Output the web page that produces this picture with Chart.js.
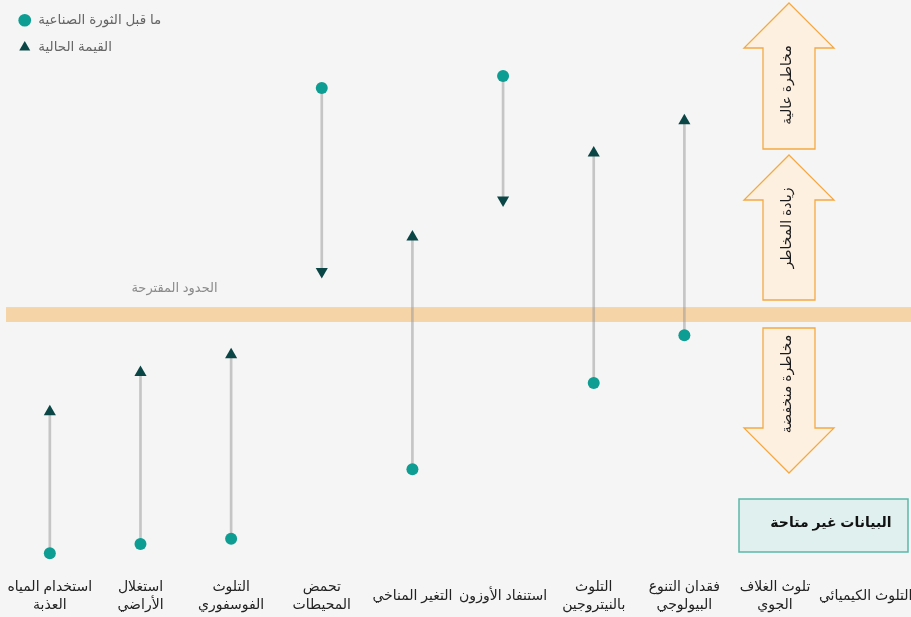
<!DOCTYPE html>
<html><head><meta charset="utf-8">
<script src="https://cdn.jsdelivr.net/npm/chart.js@4.4.0/dist/chart.umd.min.js"></script>
<style>html,body{margin:0;padding:0;background:#f5f5f5;overflow:hidden;} #wrap{width:911px;height:617px;position:relative;}</style>
</head><body><div id="wrap"><canvas id="c" width="911" height="617"></canvas></div>
<script>
const categories = [
  ['استخدام المياه','العذبة'],
  ['استغلال','الأراضي'],
  ['التلوث','الفوسفوري'],
  ['تحمض','المحيطات'],
  'التغير المناخي',
  'استنفاد الأوزون',
  ['التلوث','بالنيتروجين'],
  ['فقدان التنوع','البيولوجي'],
  ['تلوث الغلاف','الجوي'],
  'التلوث الكيميائي'
];
const preIndustrial = [3.8, 5.4, 6.3, 84.7, 18.4, 86.8, 33.4, 41.7, null, null];
const currentValue  = [28.4, 35.2, 38.3, 52.8, 58.8, 65.2, 73.4, 79.0, null, null];
const boundaryBand = [44.0, 46.6];
const seriesNames = ['ما قبل الثورة الصناعية', 'القيمة الحالية'];
const boundaryLabel = 'الحدود المقترحة';
const noDataLabel = 'البيانات غير متاحة';
const arrowLabels = ['مخاطرة عالية', 'زيادة المخاطر', 'مخاطرة منخفضة'];

const FONT = "'Liberation Sans', 'DejaVu Sans', Arial, sans-serif";
Chart.defaults.font.family = FONT;

const connectors = categories.map((_, i) =>
  (preIndustrial[i] == null || currentValue[i] == null) ? null : [preIndustrial[i], currentValue[i]]);
const rotations = categories.map((_, i) =>
  (preIndustrial[i] != null && currentValue[i] != null && currentValue[i] < preIndustrial[i]) ? 180 : 0);

function arrowPath(ctx, cx, headHalf, shaftHalf, tipY, headBaseY, endY) {
  ctx.beginPath();
  ctx.moveTo(cx, tipY);
  ctx.lineTo(cx + headHalf, headBaseY);
  ctx.lineTo(cx + shaftHalf, headBaseY);
  ctx.lineTo(cx + shaftHalf, endY);
  ctx.lineTo(cx - shaftHalf, endY);
  ctx.lineTo(cx - shaftHalf, headBaseY);
  ctx.lineTo(cx - headHalf, headBaseY);
  ctx.closePath();
  ctx.fillStyle = '#fdf0e1';
  ctx.fill();
  ctx.strokeStyle = '#f4a942';
  ctx.lineWidth = 1.3;
  ctx.stroke();
}
function vText(ctx, text, x, y) {
  ctx.save();
  ctx.translate(x, y);
  ctx.rotate(-Math.PI / 2);
  ctx.fillStyle = '#1a1a1a';
  ctx.font = '14px ' + FONT;
  ctx.textAlign = 'center';
  ctx.textBaseline = 'middle';
  ctx.fillText(text, 0, 0);
  ctx.restore();
}

const bandPlugin = {
  id: 'band',
  beforeDatasetsDraw(chart) {
    const {ctx, chartArea, scales: {y}} = chart;
    const top = y.getPixelForValue(boundaryBand[1]);
    const bot = y.getPixelForValue(boundaryBand[0]);
    ctx.save();
    ctx.fillStyle = '#f5d5a8';
    ctx.fillRect(chartArea.left + 1.5, top, chart.width - chartArea.left, bot - top);
    ctx.fillStyle = '#8a8a8a';
    ctx.font = '13px ' + FONT;
    ctx.textAlign = 'center';
    ctx.textBaseline = 'middle';
    ctx.fillText(boundaryLabel, chartArea.left + 170, top - 19);

    // risk arrows
    const cx = chart.width - 122;
    arrowPath(ctx, cx, 45, 26, 3, 48, 149);
    arrowPath(ctx, cx, 45, 26, 155, 200, 300);
    arrowPath(ctx, cx, 45, 26, 473, 428, bot + 6);
    vText(ctx, arrowLabels[0], cx - 2, 85);
    vText(ctx, arrowLabels[1], cx - 2, 228);
    vText(ctx, arrowLabels[2], cx - 2, 384);

    // no data box
    ctx.fillStyle = '#e0f0ee';
    ctx.strokeStyle = '#5db7a8';
    ctx.lineWidth = 1.5;
    ctx.fillRect(739, 499, 169, 53);
    ctx.strokeRect(739, 499, 169, 53);
    ctx.fillStyle = '#111';
    ctx.font = 'bold 14px ' + FONT;
    ctx.fillText(noDataLabel, 831, 523);
    ctx.restore();
  }
};

new Chart(document.getElementById('c'), {
  data: {
    labels: categories,
    datasets: [
      {
        type: 'line',
        label: seriesNames[0],
        data: preIndustrial,
        showLine: false,
        pointStyle: 'circle',
        pointRadius: 6,
        pointHoverRadius: 6,
        backgroundColor: '#0e9d92',
        borderColor: '#0e9d92',
        pointBorderWidth: 0,
        borderWidth: 0
      },
      {
        type: 'line',
        label: seriesNames[1],
        data: currentValue,
        showLine: false,
        pointStyle: 'triangle',
        pointRadius: 7,
        pointHoverRadius: 7,
        pointRotation: rotations,
        backgroundColor: '#0b4646',
        borderColor: '#0b4646',
        pointBorderWidth: 0,
        borderWidth: 0
      },
      {
        type: 'bar',
        label: 'connector',
        data: connectors,
        backgroundColor: 'rgba(150,150,150,0.5)',
        barThickness: 2
      }
    ]
  },
  options: {
    responsive: false,
    devicePixelRatio: 1,
    animation: false,
    events: [],
    layout: { autoPadding: false, padding: { left: 4.5, right: -3.5, top: 0, bottom: 0 } },
    plugins: {
      tooltip: { enabled: false },
      legend: {
        position: 'chartArea',
        align: 'start',
        labels: {
          usePointStyle: true,
          boxHeight: 9,
          padding: 13.5,
          color: '#666',
          font: { size: 13.5 },
          filter: (item) => item.datasetIndex !== 2
        }
      }
    },
    scales: {
      x: {
        type: 'category',
        offset: true,
        grid: { display: false, drawTicks: false },
        border: { display: false },
        ticks: {
          autoSkip: false,
          maxRotation: 0,
          minRotation: 0,
          padding: 12,
          crossAlign: 'center',
          color: '#222',
          font: { size: 14, lineHeight: 18 / 14 }
        },
        afterFit(scale) {
          scale.paddingLeft = 0;
          scale.paddingRight = -3.5;
          scale.height = 42;
        }
      },
      y: { display: false, min: 0, max: 100 }
    }
  },
  plugins: [bandPlugin]
});
</script>
</body></html>
